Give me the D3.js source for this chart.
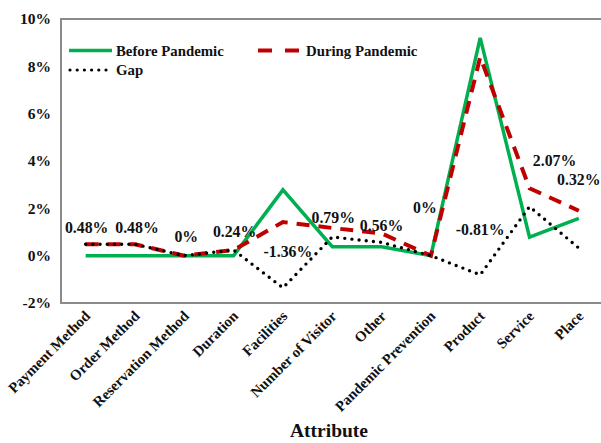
<!DOCTYPE html>
<html>
<head>
<meta charset="utf-8">
<script src="https://cdn.jsdelivr.net/npm/d3@7"></script>
<style>
  html, body { margin: 0; padding: 0; background: #fff; }
  svg { display: block; }
  svg text { font-family: "Liberation Serif", "Times New Roman", Tinos, serif; font-weight: bold; }
</style>
</head>
<body>
<svg id="chart" width="601" height="443"></svg>
<script>
// Share of mentions per attribute (%)
const attributes = ["Payment Method", "Order Method", "Reservation Method", "Duration", "Facilities",
  "Number of Visitor", "Other", "Pandemic Prevention", "Product", "Service", "Place"];
const beforePandemic = [0, 0, 0, 0, 2.78, 0.38, 0.38, 0, 9.20, 0.78, 1.58];
const duringPandemic = [0.48, 0.48, 0, 0.24, 1.42, 1.17, 0.94, 0, 8.39, 2.85, 1.90];
const gapValues = [0.48, 0.48, 0, 0.24, -1.36, 0.79, 0.56, 0, -0.81, 2.07, 0.32];
const gapLabels = ["0.48%", "0.48%", "0%", "0.24%", "-1.36%", "0.79%", "0.56%", "0%", "-0.81%", "2.07%", "0.32%"];
const yTicks = [-2, 0, 2, 4, 6, 8, 10];
const yTickLabels = ["-2%", "0%", "2%", "4%", "6%", "8%", "10%"];

// Label placement relative to each gap point (layout only)
const labelNudge = [[1, -17], [2, -17], [2, -19], [1, -18], [5, -36], [1, -19], [0, -17], [-6, -48], [0, -45], [25, -46], [0, -69]];

const svg = d3.select("#chart");
const plot = { left: 61, right: 603.5, top: 19, bottom: 303 };

const x = d3.scalePoint().domain(attributes).range([plot.left, plot.right]).padding(0.5);
const y = d3.scaleLinear().domain([-2, 10]).range([plot.bottom, plot.top]);

// plot frame
svg.append("rect")
  .attr("x", plot.left).attr("y", plot.top)
  .attr("width", plot.right - plot.left).attr("height", plot.bottom - plot.top)
  .attr("fill", "none").attr("stroke", "#7f7f7f").attr("stroke-width", 1.8);

// y axis labels
const yAxis = d3.axisLeft(y).tickValues(yTicks).tickSize(0).tickPadding(10)
  .tickFormat((d, i) => yTickLabels[i]);
const yg = svg.append("g").attr("transform", `translate(${plot.left},0)`).call(yAxis);
yg.attr("font-family", null);
yg.select(".domain").remove();
yg.selectAll("text").attr("font-size", 15.5).attr("fill", "#111");

// x axis labels, rotated
const xAxis = d3.axisBottom(x).tickSize(0).tickPadding(0);
const xg = svg.append("g").attr("transform", `translate(0,${plot.bottom})`).call(xAxis);
xg.attr("font-family", null);
xg.select(".domain").remove();
xg.selectAll("text")
  .attr("font-size", 14.8).attr("fill", "#111")
  .attr("text-anchor", "end")
  .attr("dy", null).attr("y", 0)
  .attr("transform", "translate(5,14) rotate(-45)");

// axis title
svg.append("text").attr("x", 329).attr("y", 437).attr("text-anchor", "middle")
  .attr("font-size", 19.5).attr("fill", "#111").text("Attribute");

const line = d3.line().x((d, i) => x(attributes[i])).y(d => y(d));

svg.append("path").datum(beforePandemic).attr("d", line)
  .attr("fill", "none").attr("stroke", "#00b050").attr("stroke-width", 3.5).attr("stroke-linejoin", "miter");
svg.append("path").datum(duringPandemic).attr("d", line)
  .attr("fill", "none").attr("stroke", "#c00000").attr("stroke-width", 4)
  .attr("stroke-dasharray", "13,9").attr("stroke-linejoin", "miter");
svg.append("path").datum(gapValues).attr("d", line)
  .attr("fill", "none").attr("stroke", "#000").attr("stroke-width", 3.4)
  .attr("stroke-dasharray", "0,7.2").attr("stroke-linecap", "round");

// gap value labels
svg.append("g").selectAll("text").data(gapValues).join("text")
  .attr("x", (d, i) => x(attributes[i]) + labelNudge[i][0])
  .attr("y", (d, i) => y(d) + labelNudge[i][1] + 5.5)
  .attr("text-anchor", "middle").attr("font-size", 15.8).attr("fill", "#111")
  .text((d, i) => gapLabels[i]);

// legend
const legend = svg.append("g");
legend.append("line").attr("x1", 69).attr("x2", 112).attr("y1", 50.5).attr("y2", 50.5)
  .attr("stroke", "#00b050").attr("stroke-width", 3.5);
legend.append("text").attr("x", 116).attr("y", 55.5).attr("font-size", 14.8).attr("fill", "#111").text("Before Pandemic");
legend.append("line").attr("x1", 258).attr("x2", 300).attr("y1", 50.5).attr("y2", 50.5)
  .attr("stroke", "#c00000").attr("stroke-width", 4).attr("stroke-dasharray", "14,13");
legend.append("text").attr("x", 306).attr("y", 55.5).attr("font-size", 14.8).attr("fill", "#111").text("During Pandemic");
legend.append("line").attr("x1", 70).attr("x2", 112).attr("y1", 70).attr("y2", 70)
  .attr("stroke", "#000").attr("stroke-width", 3.2).attr("stroke-dasharray", "0,7.2").attr("stroke-linecap", "round");
legend.append("text").attr("x", 116).attr("y", 75).attr("font-size", 14.8).attr("fill", "#111").text("Gap");
</script>
</body>
</html>
